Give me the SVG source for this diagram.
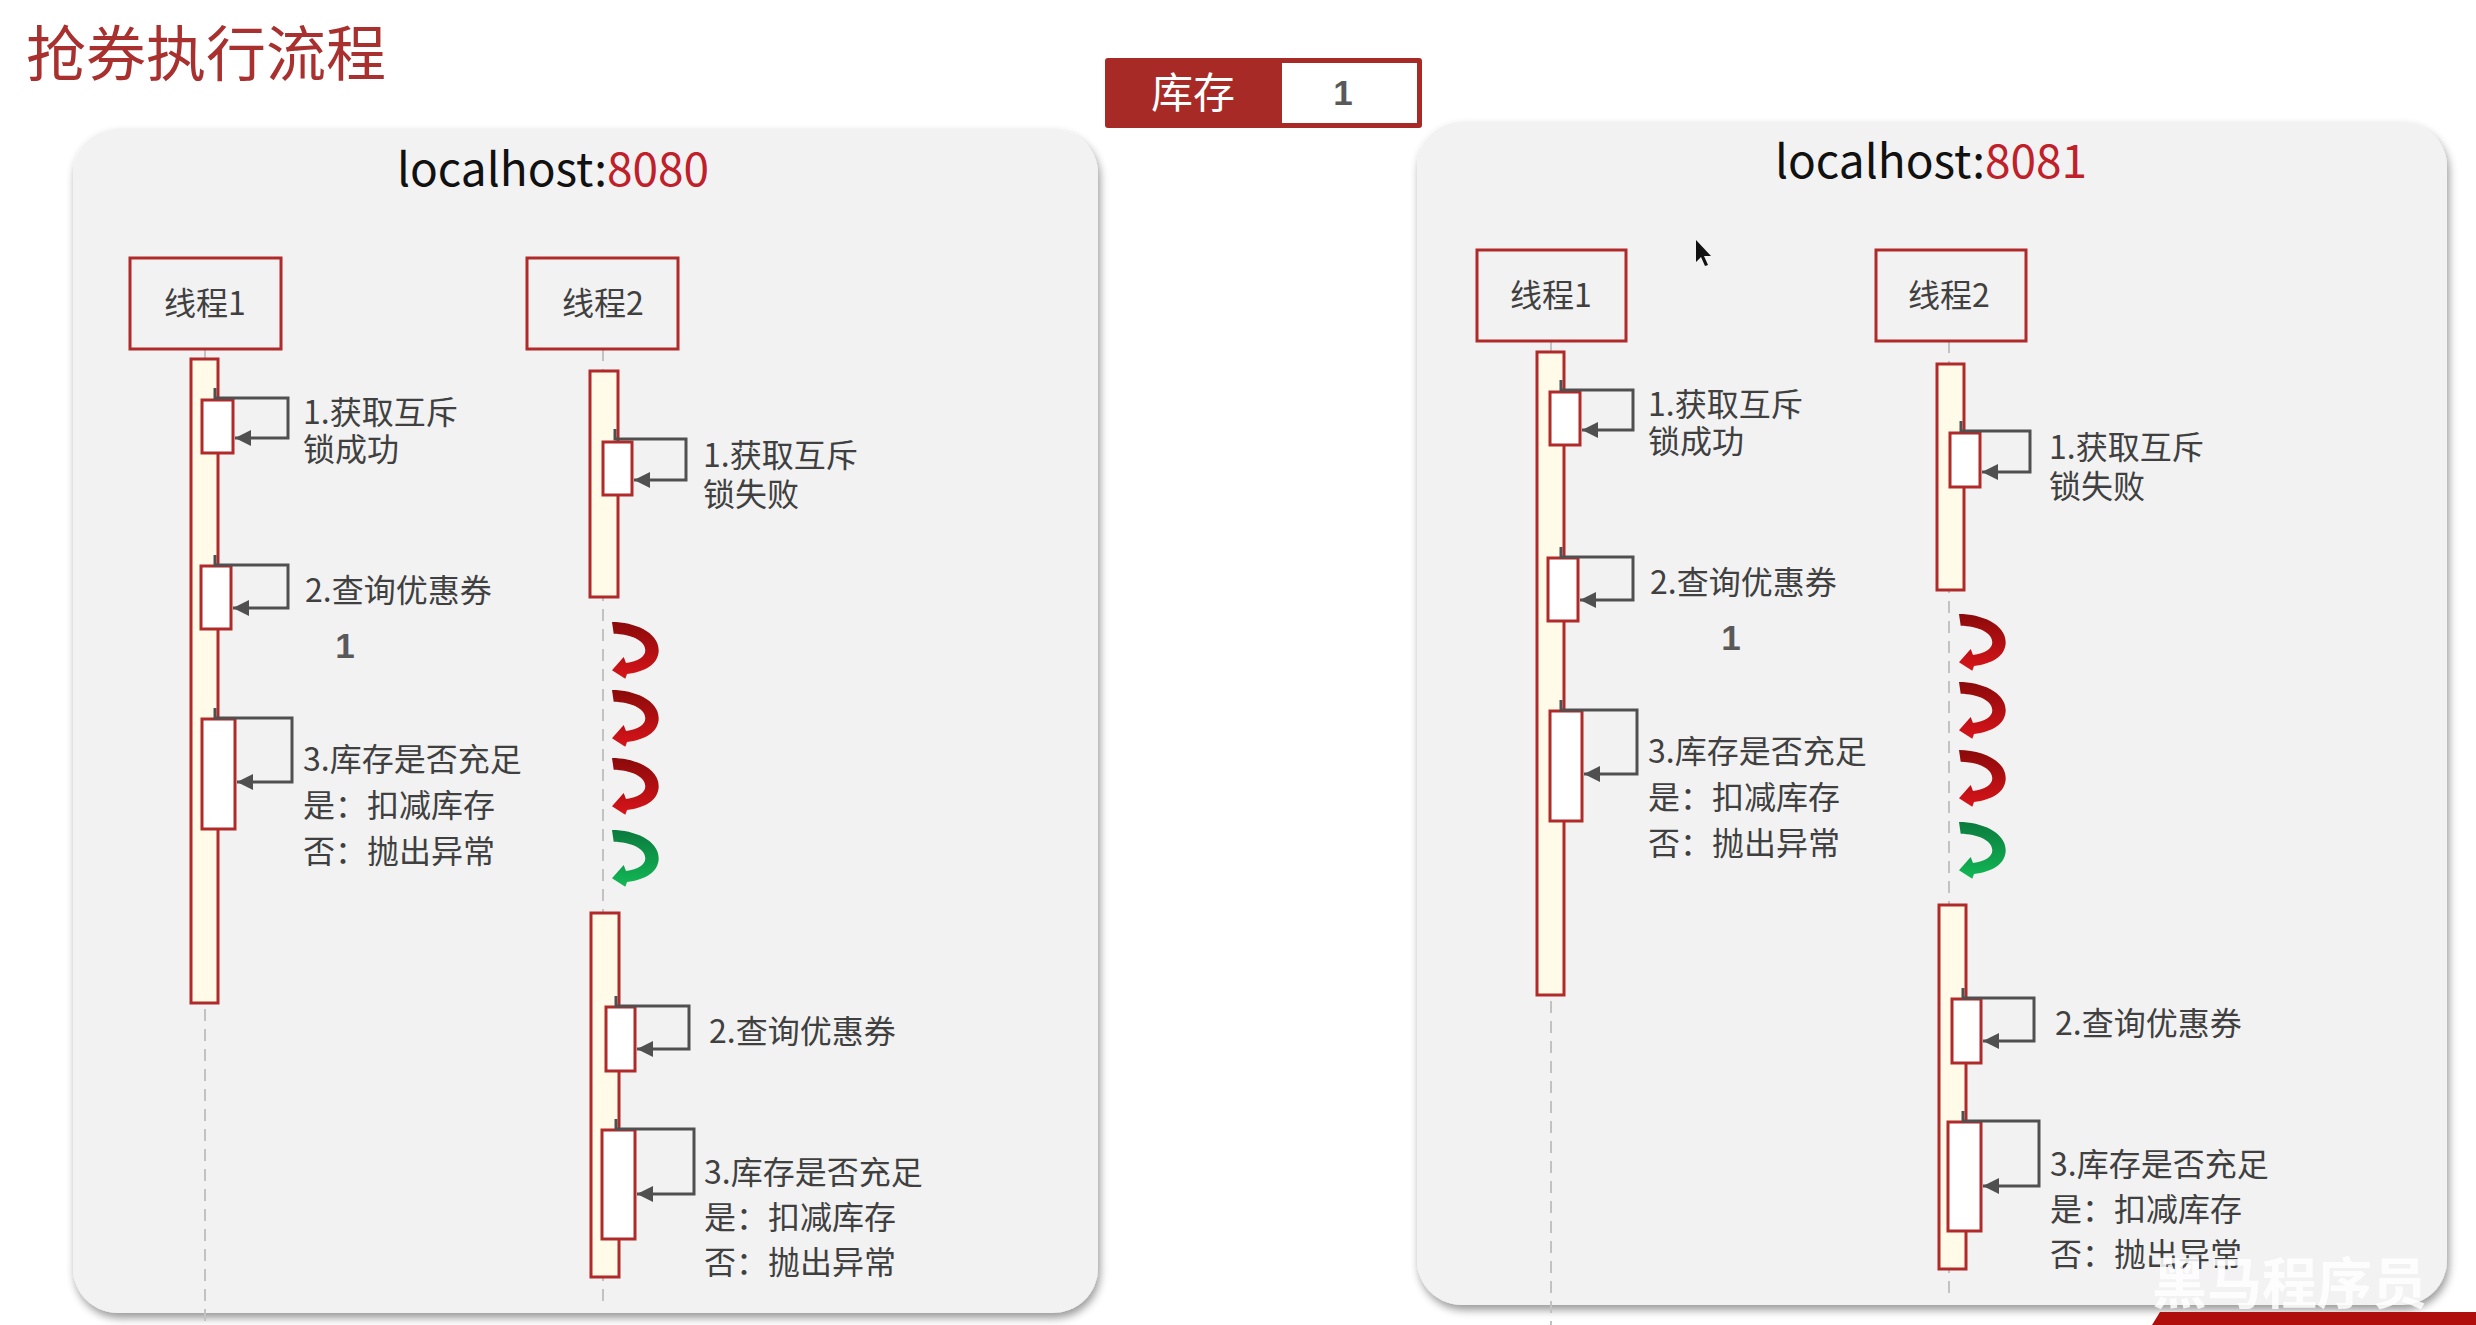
<svg xmlns="http://www.w3.org/2000/svg" xmlns:xlink="http://www.w3.org/1999/xlink" width="2476" height="1325" viewBox="0 0 2476 1325">
<style>
.cjk{font-family:"Noto Sans CJK SC","Noto Sans",sans-serif}
.title{font-size:60px;fill:#a8302e}
.host{font-size:46px;fill:#111}
.port{fill:#c0202a}
.panel{fill:#f2f2f2}
.tbox{fill:none;stroke:#b02a2a;stroke-width:3}
.tlabel{font-size:32px;fill:#404040;text-anchor:middle}
.life{stroke:#c2c2c2;stroke-width:2;stroke-dasharray:12 8;fill:none}
.bar{fill:#fffbe8;stroke:#b02a2a;stroke-width:3}
.act{fill:#ffffff;stroke:#b02a2a;stroke-width:3}
.call{fill:none;stroke:#505050;stroke-width:3;marker-end:url(#ah)}
.step{font-size:32px;fill:#404040}
.one{font-family:"Liberation Sans",Arial,sans-serif;font-weight:bold;font-size:35px;fill:#595959;text-anchor:middle}
</style>
<defs>
<filter id="sh" x="-5%" y="-5%" width="110%" height="110%">
<feDropShadow dx="2" dy="5" stdDeviation="4" flood-color="#000" flood-opacity="0.4"/>
</filter>
<marker id="ah" markerUnits="userSpaceOnUse" markerWidth="18" markerHeight="18" refX="16" refY="8" orient="auto">
<path d="M0,0 L16,8 L0,16 z" fill="#505050"/>
</marker>
<linearGradient id="gr" x1="0" y1="0" x2="0" y2="1">
<stop offset="0" stop-color="#8a0a0a"/>
<stop offset="1" stop-color="#d8141a"/>
</linearGradient>
<linearGradient id="gg" x1="0" y1="0" x2="0" y2="1">
<stop offset="0" stop-color="#0b7a3e"/>
<stop offset="1" stop-color="#12b855"/>
</linearGradient>
<path id="spin" d="M0,0 C22,0 46.7,10 46.7,28.3 C46.7,42 33,50 15,52 L13.3,56.7 L0,48.3 L11.7,35 L14,41 C26,39.5 33.3,35 33.3,28.3 C33.3,18 18,12 1.7,11.7 Z"/>
</defs>
<rect width="2476" height="1325" fill="#ffffff"/>

<g id="title">
<text class="cjk title" x="26" y="76">抢券执行流程</text>
</g>

<g id="stock">
<rect x="1105" y="58" width="317" height="70" rx="3" fill="#a82a27"/>
<rect x="1282" y="63" width="135" height="60" fill="#ffffff"/>
<text class="cjk" x="1193" y="108" font-size="42" fill="#ffffff" text-anchor="middle">库存</text>
<text class="one" x="1343" y="105" font-size="36">1</text>
</g>

<g id="server8080">
<rect class="panel" x="73" y="129" width="1025" height="1184" rx="45" filter="url(#sh)"/>
<text class="cjk host" x="553" y="186" text-anchor="middle">localhost:<tspan class="port">8080</tspan></text>
<g id="l-thread1">
<line class="life" x1="205" y1="349" x2="205" y2="1325"/>
<rect class="tbox" x="130" y="258" width="151" height="91"/>
<text class="cjk tlabel" x="205" y="315">线程1</text>
<rect class="bar" x="191" y="359" width="27" height="644"/>
<rect class="act" x="202" y="400" width="31" height="53"/>
<rect class="act" x="201" y="566" width="30" height="63"/>
<rect class="act" x="202" y="719" width="33" height="110"/>
</g>
<g id="l-thread2">
<line class="life" x1="603" y1="349" x2="603" y2="1306"/>
<rect class="tbox" x="527" y="258" width="151" height="91"/>
<text class="cjk tlabel" x="603" y="315">线程2</text>
<rect class="bar" x="590" y="371" width="28" height="226"/>
<rect class="bar" x="591" y="913" width="28" height="364"/>
<rect class="act" x="603" y="442" width="29" height="53"/>
<rect class="act" x="606" y="1007" width="29" height="64"/>
<rect class="act" x="602" y="1130" width="33" height="109"/>
</g>
<g id="l-spins">
<use xlink:href="#spin" href="#spin" x="612" y="622" fill="url(#gr)"/>
<use xlink:href="#spin" href="#spin" x="612" y="690" fill="url(#gr)"/>
<use xlink:href="#spin" href="#spin" x="612" y="758" fill="url(#gr)"/>
<use xlink:href="#spin" href="#spin" x="612" y="830" fill="url(#gg)"/>
</g>
<g id="l-connectors">
<path class="call" d="M215,388 V398 H288 V438 H235"/>
<path class="call" d="M215,555 V565 H288 V608 H233"/>
<path class="call" d="M215,708 V718 H292 V782 H237"/>
<path class="call" d="M615,429 V439 H686 V480 H634"/>
<path class="call" d="M616,996 V1006 H689 V1049 H637"/>
<path class="call" d="M616,1119 V1129 H694 V1194 H637"/>
</g>
<g id="l-labels" class="cjk">
<text class="step" x="303" y="424">1.获取互斥</text>
<text class="step" x="303" y="461">锁成功</text>
<text class="step" x="305" y="602">2.查询优惠券</text>
<text class="one" x="345" y="658">1</text>
<text class="step" x="303" y="771">3.库存是否充足</text>
<text class="step" x="303" y="817">是：扣减库存</text>
<text class="step" x="303" y="863">否：抛出异常</text>
<text class="step" x="703" y="467">1.获取互斥</text>
<text class="step" x="703" y="506">锁失败</text>
<text class="step" x="709" y="1043">2.查询优惠券</text>
<text class="step" x="704" y="1184">3.库存是否充足</text>
<text class="step" x="704" y="1229">是：扣减库存</text>
<text class="step" x="704" y="1274">否：抛出异常</text>
</g>
</g>

<g id="server8081" transform="translate(1346,-8)">
<rect class="panel" x="71" y="130" width="1030" height="1183" rx="45" filter="url(#sh)"/>
<text class="cjk host" x="585" y="186" text-anchor="middle">localhost:<tspan class="port">8081</tspan></text>
<g id="r-thread1">
<line class="life" x1="205" y1="349" x2="205" y2="1333"/>
<rect class="tbox" x="131" y="258" width="149" height="91"/>
<text class="cjk tlabel" x="205" y="315">线程1</text>
<rect class="bar" x="191" y="360" width="27" height="643"/>
<rect class="act" x="204" y="400" width="30" height="53"/>
<rect class="act" x="202" y="566" width="30" height="63"/>
<rect class="act" x="204" y="719" width="32" height="110"/>
</g>
<g id="r-thread2">
<line class="life" x1="603" y1="349" x2="603" y2="1304"/>
<rect class="tbox" x="530" y="258" width="150" height="91"/>
<text class="cjk tlabel" x="603" y="315">线程2</text>
<rect class="bar" x="591" y="372" width="27" height="226"/>
<rect class="bar" x="593" y="913" width="27" height="364"/>
<rect class="act" x="604" y="441" width="30" height="54"/>
<rect class="act" x="606" y="1007" width="29" height="64"/>
<rect class="act" x="602" y="1130" width="33" height="109"/>
</g>
<g id="r-spins">
<use xlink:href="#spin" href="#spin" x="613" y="622" fill="url(#gr)"/>
<use xlink:href="#spin" href="#spin" x="613" y="690" fill="url(#gr)"/>
<use xlink:href="#spin" href="#spin" x="613" y="758" fill="url(#gr)"/>
<use xlink:href="#spin" href="#spin" x="613" y="830" fill="url(#gg)"/>
</g>
<g id="r-connectors">
<path class="call" d="M215,388 V398 H287 V438 H236"/>
<path class="call" d="M215,555 V565 H287 V608 H234"/>
<path class="call" d="M215,708 V718 H291 V782 H238"/>
<path class="call" d="M615,429 V439 H684 V480 H636"/>
<path class="call" d="M617,996 V1006 H688 V1049 H637"/>
<path class="call" d="M617,1119 V1129 H693 V1194 H637"/>
</g>
<g id="r-labels" class="cjk">
<text class="step" x="302" y="424">1.获取互斥</text>
<text class="step" x="302" y="461">锁成功</text>
<text class="step" x="304" y="602">2.查询优惠券</text>
<text class="one" x="385" y="658">1</text>
<text class="step" x="302" y="771">3.库存是否充足</text>
<text class="step" x="302" y="817">是：扣减库存</text>
<text class="step" x="302" y="863">否：抛出异常</text>
<text class="step" x="703" y="467">1.获取互斥</text>
<text class="step" x="703" y="506">锁失败</text>
<text class="step" x="709" y="1043">2.查询优惠券</text>
<text class="step" x="704" y="1184">3.库存是否充足</text>
<text class="step" x="704" y="1229">是：扣减库存</text>
<text class="step" x="704" y="1274">否：抛出异常</text>
</g>
</g>

<g id="cursor">
<polygon points="1696,240 1696,262 1701,257 1705,266 1708,265 1704,256 1711,256" fill="#111"/>
</g>

<g id="watermark">
<polygon points="2160,1312 2476,1312 2476,1325 2152,1325" fill="#b00d0d"/>
<text class="cjk" x="2152" y="1303" font-size="55" font-weight="bold" fill="#ffffff" fill-opacity="0.85">黑马程序员</text>
</g>
</svg>
